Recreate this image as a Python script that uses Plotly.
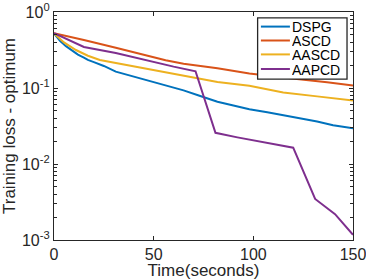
import plotly.graph_objects as go

# ---- data ----
dspg_t = [0, 3, 6, 9, 12, 15, 17, 20, 25, 31, 40, 48, 55, 65, 73, 82, 90, 98, 107, 115, 123, 132, 140, 150]
dspg_v = [0.525, 0.417, 0.355, 0.309, 0.275, 0.251, 0.234, 0.219, 0.195, 0.164, 0.141, 0.122, 0.110,
          0.093, 0.079, 0.066, 0.059, 0.0525, 0.048, 0.0442, 0.040, 0.0363, 0.0324, 0.0295]

ascd_t = [0, 7, 15, 31, 40, 48, 56, 65, 82, 98, 110, 123, 137, 150]
ascd_v = [0.525, 0.479, 0.427, 0.339, 0.295, 0.263, 0.232, 0.209, 0.182, 0.155, 0.141, 0.130, 0.119, 0.108]

aascd_t = [0, 5, 11, 17, 23, 35, 48, 60, 70, 82, 98, 115, 132, 150]
aascd_v = [0.525, 0.398, 0.316, 0.266, 0.234, 0.204, 0.178, 0.155, 0.138, 0.120, 0.107, 0.087, 0.0776, 0.0684]

aapcd_t = [0, 8, 15, 31, 48, 60, 71, 81, 92, 120, 131, 141, 150]
aapcd_v = [0.525, 0.417, 0.347, 0.288, 0.224, 0.191, 0.166, 0.0257, 0.0224, 0.0164, 0.00347, 0.00219, 0.00117]

series_names = ["DSPG", "ASCD", "AASCD", "AAPCD"]
colors = ["#0072BD", "#D95319", "#EDB120", "#7E2F8E"]

x_ticks = [0, 50, 100, 150]
y_tickvals = [0.001, 0.01, 0.1, 1]
y_ticktext = ["10<sup>-3</sup>", "10<sup>-2</sup>", "10<sup>-1</sup>", "10<sup>0</sup>"]
y_minor = [0.002, 0.003, 0.004, 0.005, 0.006, 0.007, 0.008, 0.009,
           0.02, 0.03, 0.04, 0.05, 0.06, 0.07, 0.08, 0.09,
           0.2, 0.3, 0.4, 0.5, 0.6, 0.7, 0.8, 0.9]

FONT = "Liberation Sans, Arial, sans-serif"
AX = "#262626"

fig = go.Figure()
for (t, v), name, c in zip([(dspg_t, dspg_v), (ascd_t, ascd_v), (aascd_t, aascd_v), (aapcd_t, aapcd_v)],
                           series_names, colors):
    fig.add_trace(go.Scatter(x=t, y=v, mode="lines", name=name,
                             line=dict(color=c, width=2), showlegend=False))

# boxed key in the top-right corner (paper coords)
lx0, lx1, ly0, ly1 = 0.681, 0.980, 0.706, 0.974
fig.add_shape(type="rect", xref="paper", yref="paper", x0=lx0, x1=lx1, y0=ly0, y1=ly1,
              line=dict(color=AX, width=1.3), fillcolor="white", layer="above")
entry_y = [0.936, 0.875, 0.814, 0.750]
for name, c, yy in zip(series_names, colors, entry_y):
    fig.add_shape(type="line", xref="paper", yref="paper", x0=0.692, x1=0.789, y0=yy, y1=yy,
                  line=dict(color=c, width=2), layer="above")
    fig.add_annotation(xref="paper", yref="paper", x=0.794, y=yy, text=name, showarrow=False,
                       xanchor="left", yanchor="middle", height=13, borderpad=0,
                       font=dict(family=FONT, size=14, color="black"))

fig.update_layout(
    width=366, height=280,
    margin=dict(l=54, r=13, t=12, b=40, autoexpand=False),
    paper_bgcolor="white", plot_bgcolor="white",
    font=dict(family=FONT, size=16, color=AX),
    showlegend=False,
)
fig.update_xaxes(
    range=[0, 150], tickvals=x_ticks, ticks="inside", ticklen=4, tickwidth=1.2, tickcolor=AX,
    showline=True, linecolor=AX, linewidth=1.3, mirror="allticks", showgrid=False, zeroline=False,
    automargin=False, ticklabeloverflow="allow", tickfont=dict(size=16, color=AX),
    title=dict(text="Time(seconds)", font=dict(size=17, color=AX), standoff=4),
)
fig.update_yaxes(
    type="log", range=[-3, 0], tickmode="array", tickvals=y_tickvals, ticktext=y_ticktext,
    ticks="inside", ticklen=4, tickwidth=1.2, tickcolor=AX,
    minor=dict(tickmode="array", tickvals=y_minor, ticks="inside", ticklen=2.5, tickwidth=1,
               tickcolor=AX, showgrid=False),
    showline=True, linecolor=AX, linewidth=1.3, mirror="allticks", showgrid=False, zeroline=False,
    automargin=False, ticklabeloverflow="allow", tickfont=dict(size=16, color=AX),
    title=dict(text="Training loss - optimum", font=dict(size=17, color=AX), standoff=9),
)

# remove the page's default 8px body margin so the figure sits at the window's corner
fig.write_html("out.html", config={"displayModeBar": False},
               post_script="document.body.style.margin='0';")
